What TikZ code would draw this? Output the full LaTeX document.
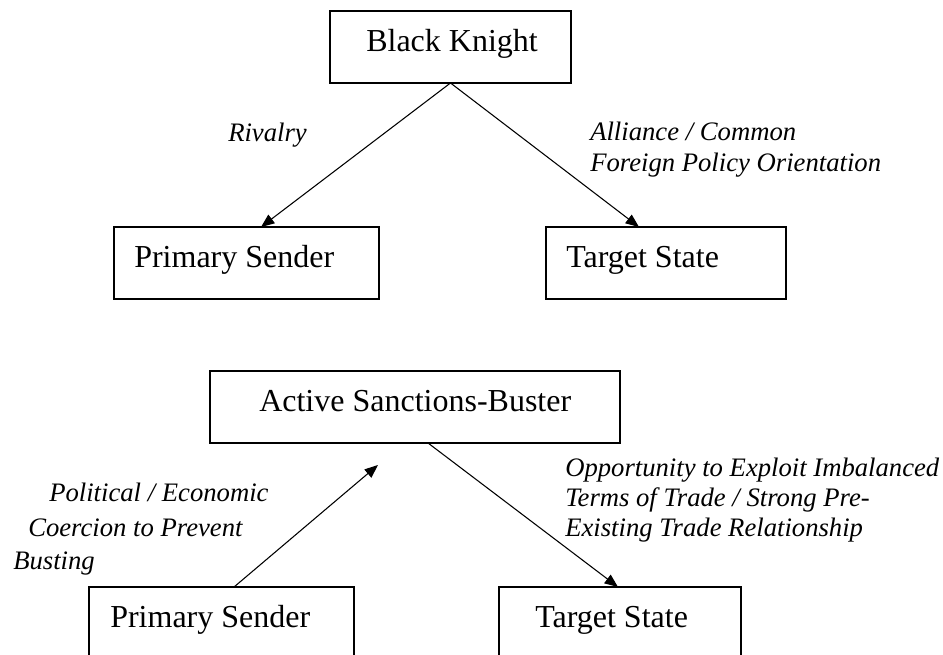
\documentclass[tikz,border=0pt]{standalone}
\usepackage{fontspec}
\setmainfont{Liberation Serif}
\usetikzlibrary{arrows.meta}
\begin{document}
\begin{tikzpicture}[x=0.75pt,y=-0.75pt,
  box/.style={draw,line width=1.5pt,rectangle,minimum height=54pt,inner sep=0pt,outer sep=0pt,anchor=north west},
  boxtext/.style={anchor=base west,inner sep=0pt,font=\fontsize{24}{28}\selectfont},
  lbl/.style={anchor=base west,inner sep=0pt,font=\fontsize{20}{24}\selectfont\itshape},
  arr/.style={line width=0.8pt,-{Triangle[length=10pt,width=8pt]}}]
\useasboundingbox (0,0) rectangle (943,655);
% top diagram
\node[box,minimum width=180.75pt] (bk) at (330,11) {};
\node[boxtext] (bkt) at (366,52) {Black Knight};
\node[box,minimum width=198.75pt] (ps1) at (114,227) {};
\node[boxtext] (ps1t) at (134,268) {Primary Sender};
\node[box,minimum width=180pt] (ts1) at (546,227) {};
\node[boxtext] (ts1t) at (566,268) {Target State};
\node[lbl] (riv) at (228,142) {Rivalry};
\node[lbl] (all1) at (590,141) {Alliance / Common};
\node[lbl] (all2) at (590,172) {Foreign Policy Orientation};
\draw[arr] (bk.south) -- ([xshift=10.9pt]ps1.north);
\draw[arr] (bk.south) -- ([xshift=-20.25pt]ts1.north);
% bottom diagram
\node[box,minimum width=307.5pt] (asb) at (210,371) {};
\node[boxtext] (asbt) at (259,412) {Active Sanctions-Buster};
\node[box,minimum width=198.75pt] (ps2) at (89,587) {};
\node[boxtext] (ps2t) at (110,628) {Primary Sender};
\node[box,minimum width=181.5pt] (ts2) at (499,587) {};
\node[boxtext] (ts2t) at (535,628) {Target State};
\coordinate (tip) at (378,465);
\node[lbl] (pol1) at (49,502) {Political / Economic};
\node[lbl] (pol2) at (28,537) {Coercion to Prevent};
\node[lbl] (pol3) at (13,570) {Busting};
\node[lbl] (opp1) at (565,477) {Opportunity to Exploit Imbalanced};
\node[lbl] (opp2) at (565,507) {Terms of Trade / Strong Pre-};
\node[lbl] (opp3) at (565,537) {Existing Trade Relationship};
\draw[arr] ([xshift=9.4pt]ps2.north) -- (tip);
\draw[arr] ([xshift=9.75pt]asb.south) -- ([xshift=-1.5pt]ts2.north);
\end{tikzpicture}
\end{document}
